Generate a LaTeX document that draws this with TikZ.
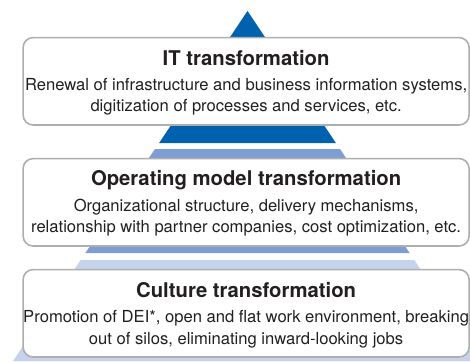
\documentclass[tikz,border=0pt]{standalone}
\usepackage{fontspec}
\setmainfont{TeX Gyre Heros}
\usetikzlibrary{calc}
\definecolor{pyrdark}{HTML}{0061AF}
\definecolor{pyrmid}{HTML}{7E9DD3}
\definecolor{pyrlight}{HTML}{C6D3EC}
\definecolor{boxgray}{HTML}{AEAEAE}
\definecolor{txt}{HTML}{231F20}
\begin{document}
\begin{tikzpicture}[x=1pt,y=-1pt,
  layerbox/.style={draw=boxgray, line width=1.6pt, rounded corners=10pt, fill=white,
    minimum width=446pt, minimum height=87.4pt, inner sep=0pt, anchor=north west},
  ttl/.style={font=\fontsize{20.3}{24}\selectfont\bfseries, text=txt, anchor=base, inner sep=0pt},
  bdy/.style={font=\fontsize{16.6}{20}\selectfont, text=txt, anchor=base, inner sep=0pt}]
\useasboundingbox (0,0) rectangle (470,361);
\clip (0,0) rectangle (470,361);
% pyramid layers
\fill[pyrdark] (247.5,11) -- (335.9,143) -- (159.1,143) -- cycle;
\fill[pyrmid] (155.0,149) -- (340.0,149) -- (409.6,253) -- (85.4,253) -- cycle;
\fill[pyrlight] (80.7,260) -- (414.3,260) -- (482.0,361) -- (13.0,361) -- cycle;
% boxes
\node[layerbox] (b1) at (22.3,36.8) {};
\node[layerbox] (b2) at (22.3,157.8) {};
\node[layerbox] (b3) at (22.3,268.8) {};
% texts
\node[ttl] (t1) at ($(b1.north)+(0,28.2)$) {IT transformation};
\node[bdy] (t1a) at ($(b1.north)+(0,53.4)$) {Renewal of infrastructure and business information systems,};
\node[bdy] (t1b) at ($(b1.north)+(0,74.4)$) {digitization of processes and services, etc.};
\node[ttl] (t2) at ($(b2.north)+(0,27.2)$) {Operating model transformation};
\node[bdy] (t2a) at ($(b2.north)+(0,53.7)$) {Organizational structure, delivery mechanisms,};
\node[bdy] (t2b) at ($(b2.north)+(0,74.4)$) {relationship with partner companies, cost optimization, etc.};
\node[ttl] (t3) at ($(b3.north)+(0,28.2)$) {Culture transformation};
\node[bdy] (t3a) at ($(b3.north)+(0,53.4)$) {Promotion of DEI*, open and flat work environment, breaking};
\node[bdy] (t3b) at ($(b3.north)+(0,75.2)$) {out of silos, eliminating inward-looking jobs};
\end{tikzpicture}
\end{document}
